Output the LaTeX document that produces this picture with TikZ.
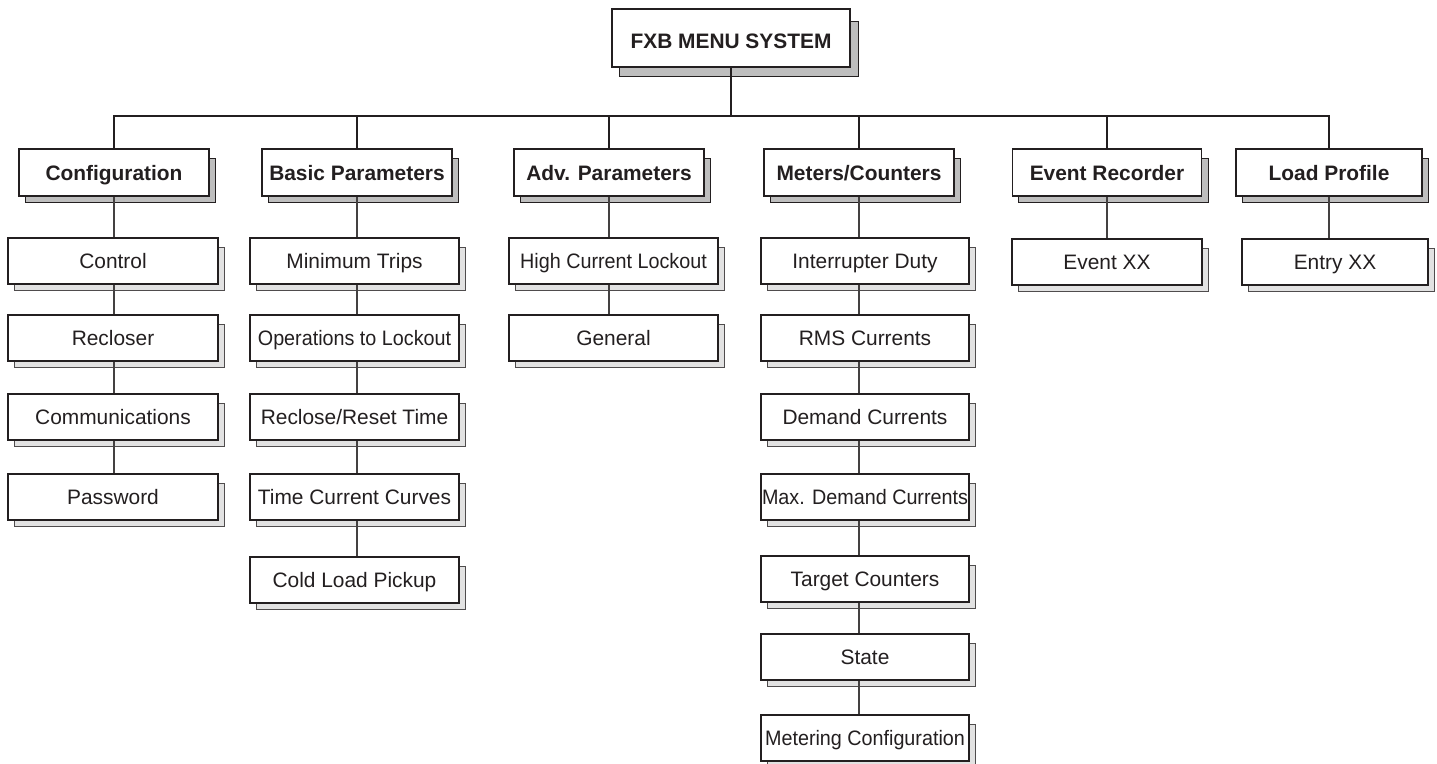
\documentclass[tikz,border=0pt]{standalone}
\usepackage{graphicx}
\usepackage{fontspec}
\setmainfont{Liberation Sans}
\pgfdeclarelayer{background}
\pgfsetlayers{background,main}
\definecolor{ink}{HTML}{231F20}
\definecolor{hshadow}{HTML}{BEBEBE}
\definecolor{cshadow}{HTML}{E2E2E2}
\newcommand\narrowtext[1]{\scalebox{0.945}[1]{#1}}
\newcommand\dropshade[2]{%
  \begin{pgfonlayer}{background}
    \path[#2] ([xshift=7pt,yshift=-10pt]#1.north west) rectangle ([xshift=6pt,yshift=-6pt]#1.south east);
  \end{pgfonlayer}}
\tikzset{
  every node/.style={font=\fontsize{20.9}{24}\selectfont, text=ink, text height=17pt, text depth=2pt},
  titlebox/.style={draw=ink, line width=2.6pt, fill=white, minimum width=238pt, minimum height=58pt, inner sep=0pt, text height=20pt, text depth=0pt, font=\bfseries\fontsize{20.9}{24}\selectfont},
  headbox/.style={draw=ink, line width=1.8pt, fill=white, minimum height=47pt, inner sep=0pt, font=\bfseries\fontsize{20.9}{24}\selectfont},
  childbox/.style={draw=ink, line width=1.4pt, fill=white, minimum height=46pt, inner sep=0pt},
  shadowdark/.style={draw=ink, line width=1.1pt, fill=hshadow},
  shadowlight/.style={draw=ink!80, line width=1.0pt, fill=cshadow},
  busline/.style={draw=ink, line width=2.5pt},
  link/.style={draw=ink!85, line width=1.4pt},
}
\begin{document}
\begin{tikzpicture}[x=1pt,y=-1pt]
\useasboundingbox (0,0) rectangle (1437,763);

% title
\node[titlebox] (top) at (731,38) {FXB MENU SYSTEM};
\begin{pgfonlayer}{background}
  \path[shadowdark] ([xshift=9pt,yshift=-14pt]top.north west) rectangle ([xshift=7pt,yshift=-8pt]top.south east);
\end{pgfonlayer}

% headers
\node[headbox, minimum width=190pt] (h1) at (114,172.5) {Configuration};
\node[headbox, minimum width=190pt] (h2) at (357,172.5) {Basic Parameters};
\node[headbox, minimum width=190pt] (h3) at (609,172.5) {Adv. Parameters};
\node[headbox, minimum width=190pt] (h4) at (859,172.5) {Meters/Counters};
\node[headbox, minimum width=189pt] (h5) at (1107,172.5) {Event Recorder};
\node[headbox, minimum width=186pt] (h6) at (1329,172.5) {Load Profile};
\foreach \n in {h1,h2,h3,h4,h5,h6} {\dropshade{\n}{shadowdark}}

% bus
\coordinate (bus) at (731,116);
\draw[busline] (top.south) -- (top.south |- bus);
\draw[busline] (h1.north) |- (h6.north |- bus) -- (h6.north);
\foreach \n in {h2,h3,h4,h5} {\draw[busline] (\n.north) -- (\n.north |- bus);}

% Configuration column
\node[childbox, minimum width=210pt] (c11) at (113,261) {Control};
\node[childbox, minimum width=210pt] (c12) at (113,338) {Recloser};
\node[childbox, minimum width=210pt] (c13) at (113,417) {Communications};
\node[childbox, minimum width=210pt] (c14) at (113,497) {Password};

% Basic Parameters column
\node[childbox, minimum width=209pt] (c21) at (354.5,261) {Minimum Trips};
\node[childbox, minimum width=209pt] (c22) at (354.5,338) {\narrowtext{Operations to Lockout}};
\node[childbox, minimum width=209pt] (c23) at (354.5,417) {Reclose/Reset Time};
\node[childbox, minimum width=209pt] (c24) at (354.5,497) {Time Current Curves};
\node[childbox, minimum width=209pt] (c25) at (354.5,580) {Cold Load Pickup};

% Adv. Parameters column
\node[childbox, minimum width=209pt] (c31) at (613.5,261) {\narrowtext{High Current Lockout}};
\node[childbox, minimum width=209pt] (c32) at (613.5,338) {General};

% Meters/Counters column
\node[childbox, minimum width=208pt] (c41) at (865,261) {Interrupter Duty};
\node[childbox, minimum width=208pt] (c42) at (865,338) {RMS Currents};
\node[childbox, minimum width=208pt] (c43) at (865,417) {Demand Currents};
\node[childbox, minimum width=208pt] (c44) at (865,497) {\narrowtext{Max. Demand Currents}};
\node[childbox, minimum width=208pt] (c45) at (865,579) {Target Counters};
\node[childbox, minimum width=208pt] (c46) at (865,657) {State};
\node[childbox, minimum width=208pt] (c47) at (865,738) {\narrowtext{Metering Configuration}};

% Event Recorder / Load Profile
\node[childbox, minimum width=190pt] (c51) at (1107,262) {Event XX};
\node[childbox, minimum width=186pt] (c61) at (1335,262) {Entry XX};

\foreach \n in {c11,c12,c13,c14,c21,c22,c23,c24,c25,c31,c32,c41,c42,c43,c44,c45,c46,c47,c51,c61} {\dropshade{\n}{shadowlight}}

% connectors
\draw[link] (h1.south) -- (h1.south |- c11.north);
\draw[link] (h1.south |- c11.south) -- (h1.south |- c12.north);
\draw[link] (h1.south |- c12.south) -- (h1.south |- c13.north);
\draw[link] (h1.south |- c13.south) -- (h1.south |- c14.north);

\draw[link] (h2.south) -- (h2.south |- c21.north);
\draw[link] (h2.south |- c21.south) -- (h2.south |- c22.north);
\draw[link] (h2.south |- c22.south) -- (h2.south |- c23.north);
\draw[link] (h2.south |- c23.south) -- (h2.south |- c24.north);
\draw[link] (h2.south |- c24.south) -- (h2.south |- c25.north);

\draw[link] (h3.south) -- (h3.south |- c31.north);
\draw[link] (h3.south |- c31.south) -- (h3.south |- c32.north);

\draw[link] (h4.south) -- (h4.south |- c41.north);
\draw[link] (h4.south |- c41.south) -- (h4.south |- c42.north);
\draw[link] (h4.south |- c42.south) -- (h4.south |- c43.north);
\draw[link] (h4.south |- c43.south) -- (h4.south |- c44.north);
\draw[link] (h4.south |- c44.south) -- (h4.south |- c45.north);
\draw[link] (h4.south |- c45.south) -- (h4.south |- c46.north);
\draw[link] (h4.south |- c46.south) -- (h4.south |- c47.north);

\draw[link] (h5.south) -- (h5.south |- c51.north);
\draw[link] (h6.south) -- (h6.south |- c61.north);
\end{tikzpicture}
\end{document}
